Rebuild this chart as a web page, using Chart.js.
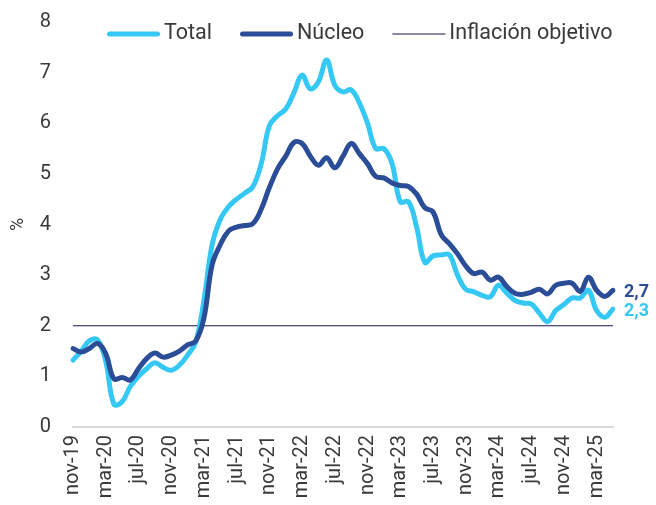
<!DOCTYPE html>
<html lang="es">
<head>
<meta charset="utf-8">
<title>Inflación</title>
<script src="https://cdn.jsdelivr.net/npm/chart.js@4.4.1/dist/chart.umd.min.js"></script>
<style>
    html, body { margin: 0; padding: 0; background: #ffffff; }
    #contenedor { width: 656px; height: 505px; position: relative; }
</style>
</head>
<body>
<div id="contenedor"><canvas id="grafico"></canvas></div>
<script>
const meses = [
    'nov-19', 'dic-19', 'ene-20', 'feb-20', 'mar-20', 'abr-20', 'may-20', 'jun-20', 'jul-20', 'ago-20', 'sep-20', 'oct-20',
    'nov-20', 'dic-20', 'ene-21', 'feb-21', 'mar-21', 'abr-21', 'may-21', 'jun-21', 'jul-21', 'ago-21', 'sep-21', 'oct-21',
    'nov-21', 'dic-21', 'ene-22', 'feb-22', 'mar-22', 'abr-22', 'may-22', 'jun-22', 'jul-22', 'ago-22', 'sep-22', 'oct-22',
    'nov-22', 'dic-22', 'ene-23', 'feb-23', 'mar-23', 'abr-23', 'may-23', 'jun-23', 'jul-23', 'ago-23', 'sep-23', 'oct-23',
    'nov-23', 'dic-23', 'ene-24', 'feb-24', 'mar-24', 'abr-24', 'may-24', 'jun-24', 'jul-24', 'ago-24', 'sep-24', 'oct-24',
    'nov-24', 'dic-24', 'ene-25', 'feb-25', 'mar-25', 'abr-25', 'may-25'
];

const total = [
    1.32, 1.50, 1.70, 1.72, 1.30, 0.45, 0.50, 0.80, 1.00, 1.15, 1.27, 1.18,
    1.12, 1.22, 1.42, 1.68, 2.50, 3.60, 4.10, 4.35, 4.50, 4.62, 4.75, 5.20,
    5.95, 6.15, 6.28, 6.60, 6.95, 6.68, 6.82, 7.25, 6.75, 6.62, 6.66, 6.40,
    6.00, 5.50, 5.50, 5.20, 4.45, 4.45, 3.95, 3.25, 3.38, 3.40, 3.40, 3.00,
    2.72, 2.67, 2.60, 2.57, 2.80, 2.65, 2.50, 2.45, 2.43, 2.25, 2.08, 2.30,
    2.42, 2.55, 2.55, 2.70, 2.30, 2.17, 2.33
];

const nucleo = [
    1.55, 1.48, 1.55, 1.65, 1.45, 0.95, 0.98, 0.93, 1.15, 1.35, 1.46, 1.38,
    1.42, 1.50, 1.62, 1.70, 2.15, 3.20, 3.60, 3.87, 3.95, 3.98, 4.02, 4.30,
    4.73, 5.10, 5.35, 5.62, 5.60, 5.35, 5.17, 5.32, 5.12, 5.35, 5.60, 5.40,
    5.20, 4.95, 4.92, 4.82, 4.77, 4.75, 4.60, 4.33, 4.25, 3.80, 3.62, 3.42,
    3.18, 3.03, 3.06, 2.90, 2.96, 2.78, 2.64, 2.62, 2.66, 2.72, 2.63, 2.80,
    2.84, 2.84, 2.68, 2.96, 2.70, 2.58, 2.70
];

const metaInflacion = 2;

const colorTotal = '#35c8f5';
const colorNucleo = '#2b4c96';
const colorObjetivo = '#16164e';
const colorTexto = '#3a3a3a';

// leyenda y etiquetas del último dato, dibujadas a mano
const leyendaPlugin = {
    id: 'leyendaPlugin',
    afterDraw(chart) {
        const ctx = chart.ctx;
        ctx.save();

        const items = [
            { texto: 'Total', color: colorTotal, ancho: 5, cap: 'round' },
            { texto: 'Núcleo', color: colorNucleo, ancho: 5, cap: 'round' },
            { texto: 'Inflación objetivo', color: '#8a8aa6', ancho: 2, cap: 'butt' }
        ];
        let x = 107;
        const y = 34;
        ctx.font = '21.5px Roboto';
        ctx.textBaseline = 'middle';
        ctx.textAlign = 'left';
        items.forEach(item => {
            const inset = item.cap === 'round' ? item.ancho / 2 : 0;
            ctx.beginPath();
            ctx.strokeStyle = item.color;
            ctx.lineWidth = item.ancho;
            ctx.lineCap = item.cap;
            ctx.moveTo(x + inset, y);
            ctx.lineTo(x + 53 - inset, y);
            ctx.stroke();
            x += 57;
            ctx.fillStyle = colorTexto;
            ctx.fillText(item.texto, x, y);
            x += ctx.measureText(item.texto).width + 28;
        });

        // valor final de cada serie
        ctx.font = 'bold 18px Roboto';
        [1, 2].forEach(i => {
            const ds = chart.data.datasets[i];
            const meta = chart.getDatasetMeta(i);
            const punto = meta.data[meta.data.length - 1];
            const valor = ds.data[ds.data.length - 1];
            ctx.fillStyle = ds.borderColor;
            ctx.fillText(valor.toFixed(1).replace('.', ','), punto.x + 11, punto.y + 2);
        });
        ctx.restore();
    }
};

const fuenteEjes = { family: 'Roboto', size: 20 };

new Chart(document.getElementById('grafico'), {
    type: 'line',
    data: {
        labels: meses,
        datasets: [
            {
                label: 'Inflación objetivo',
                data: meses.map(() => metaInflacion),
                borderColor: colorObjetivo,
                borderWidth: 1.2,
                pointRadius: 0,
                tension: 0,
                order: 3
            },
            {
                label: 'Total',
                data: total,
                borderColor: colorTotal,
                borderWidth: 5,
                borderCapStyle: 'round',
                borderJoinStyle: 'round',
                pointRadius: 0,
                tension: 0.4,
                order: 2
            },
            {
                label: 'Núcleo',
                data: nucleo,
                borderColor: colorNucleo,
                borderWidth: 5,
                borderCapStyle: 'round',
                borderJoinStyle: 'round',
                pointRadius: 0,
                tension: 0.4,
                order: 1
            }
        ]
    },
    options: {
        responsive: true,
        maintainAspectRatio: false,
        animation: false,
        layout: {
            padding: { top: 22, right: 43, left: 0, bottom: 0 }
        },
        plugins: {
            legend: { display: false },
            tooltip: { enabled: false }
        },
        scales: {
            x: {
                offset: false,
                grid: { display: false, drawTicks: false },
                border: { color: '#d9d9d9', width: 2 },
                ticks: {
                    autoSkip: false,
                    maxRotation: 90,
                    minRotation: 90,
                    padding: 8,
                    color: colorTexto,
                    font: fuenteEjes,
                    callback: (valor, indice) => indice % 4 === 0 ? meses[indice] : ''
                },
                afterFit: (escala) => { escala.height = 78; }
            },
            y: {
                min: 0,
                max: 8,
                grid: { display: false, drawTicks: false },
                border: { display: false },
                ticks: {
                    stepSize: 1,
                    padding: 22,
                    color: colorTexto,
                    font: fuenteEjes
                },
                title: {
                    display: true,
                    text: '%',
                    color: colorTexto,
                    font: { family: 'Roboto', size: 18 },
                    padding: { top: 8, bottom: 0 }
                },
                afterFit: (escala) => {
                    escala.width = 73;
                    escala.paddingTop = 0;
                    escala.paddingBottom = 0;
                }
            }
        }
    },
    plugins: [leyendaPlugin]
});
</script>
</body>
</html>
